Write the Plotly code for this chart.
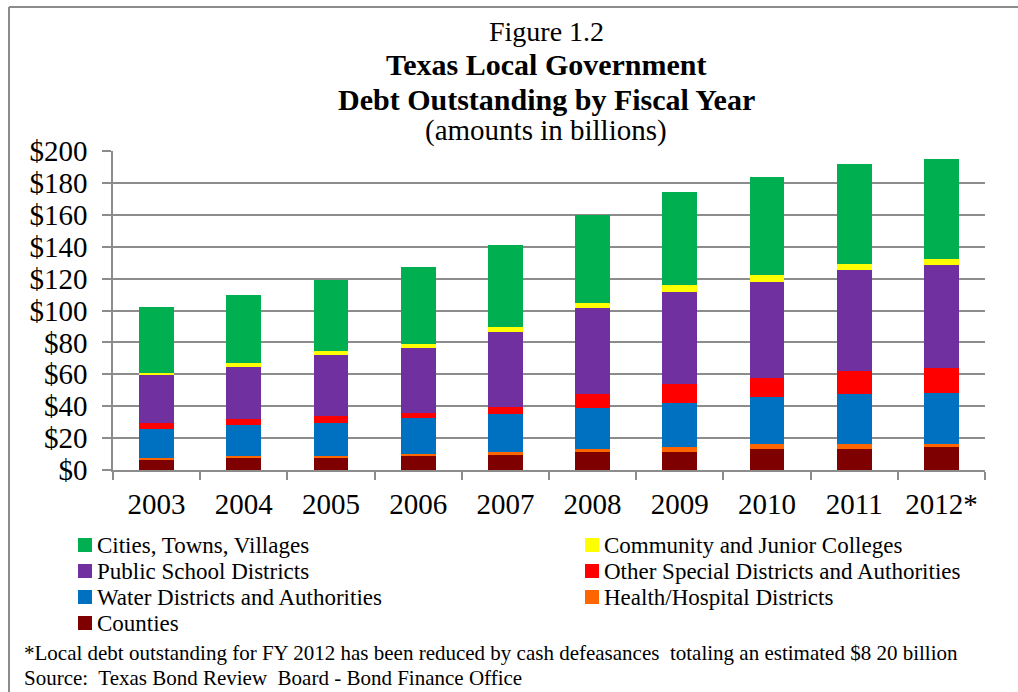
import plotly.graph_objects as go

# Fiscal years and outstanding debt by issuer type ($ billions)
years = ["2003", "2004", "2005", "2006", "2007", "2008", "2009", "2010", "2011", "2012*"]
counties = [6.7, 7.7, 7.7, 8.8, 10.0, 11.1, 11.5, 12.9, 12.9, 14.2]
health = [1.0, 1.3, 1.3, 1.2, 1.1, 2.1, 2.7, 3.2, 3.2, 2.1]
water = [18.2, 19.2, 20.6, 22.4, 23.8, 25.8, 27.6, 29.4, 31.3, 32.1]
other_special = [3.7, 3.5, 4.0, 3.5, 4.3, 8.4, 11.9, 12.3, 14.6, 15.7]
schools = [30.3, 33.0, 38.4, 40.3, 47.4, 53.9, 58.0, 60.2, 63.3, 64.3]
colleges = [0.9, 2.5, 2.3, 2.5, 3.2, 3.1, 4.2, 4.1, 4.1, 4.2]
cities = [41.5, 42.4, 44.7, 48.6, 51.1, 55.3, 58.4, 61.6, 62.7, 62.6]

# (name, values, colour, legend column, legend row), stacked bottom to top
series = [
    ("Counties", counties, "#7F0000", 0, 3),
    ("Health/Hospital Districts", health, "#FF6600", 1, 2),
    ("Water Districts and Authorities", water, "#0070C0", 0, 2),
    ("Other Special Districts and Authorities", other_special, "#FF0000", 1, 1),
    ("Public School Districts", schools, "#7030A0", 0, 1),
    ("Community and Junior Colleges", colleges, "#FFFF00", 1, 0),
    ("Cities, Towns, Villages", cities, "#00B050", 0, 0),
]

W, H = 1018, 692
L, R, T, B = 113, 33, 151, 222
PW, PH = W - L - R, H - T - B
SERIF = "Liberation Serif"
GRID = "#8C8C8C"


def px_x(x):
    return (x - L) / PW


def px_y(y):
    return (H - B - y) / PH


fig = go.Figure()
for name, vals, color, _, _ in series:
    fig.add_trace(go.Bar(
        x=years, y=vals, name=name,
        marker=dict(color=color, line=dict(width=0)),
        width=0.4,
    ))

fig.update_layout(
    width=W, height=H,
    margin=dict(l=L, r=R, t=T, b=B, autoexpand=False),
    barmode="stack",
    paper_bgcolor="white", plot_bgcolor="white",
    font=dict(family=SERIF, color="black"),
    showlegend=False,
    xaxis=dict(
        type="category", tickson="boundaries",
        ticks="outside", ticklen=8, tickcolor=GRID, tickwidth=1.5,
        showline=True, linecolor=GRID, linewidth=1.5,
        showgrid=False,
        tickfont=dict(family=SERIF, size=29, color="black"),
        ticklabelstandoff=7,
    ),
    yaxis=dict(
        range=[0, 200], dtick=20, tickprefix="$",
        ticks="outside", ticklen=9, tickcolor=GRID, tickwidth=1.5,
        showline=True, linecolor=GRID, linewidth=1.5,
        showgrid=True, gridcolor=GRID, gridwidth=1.5,
        zeroline=False,
        tickfont=dict(family=SERIF, size=29, color="black"),
        ticklabelstandoff=9,
    ),
)

# Title block
title_lines = [
    ("Figure 1.2", 28, 32),
    ("<b>Texas Local Government</b>", 30, 65),
    ("<b>Debt Outstanding by Fiscal Year</b>", 30, 99),
    ("(amounts in billions)", 29, 131),
]
for text, size, yc in title_lines:
    fig.add_annotation(
        text=text, xref="paper", yref="paper",
        x=px_x(546), y=px_y(yc), xanchor="center", yanchor="middle",
        showarrow=False, font=dict(family=SERIF, size=size, color="black"),
    )

# Legend: two columns of colour swatches with labels
col_x = [78, 585]
row_y = [545, 571, 597, 623]
for name, _, color, col, row in series:
    x0, yc = col_x[col], row_y[row]
    fig.add_shape(type="rect", xref="paper", yref="paper",
                  x0=px_x(x0), x1=px_x(x0 + 14),
                  y0=px_y(yc + 7), y1=px_y(yc - 7),
                  fillcolor=color, line=dict(width=0))
    fig.add_annotation(
        text=name, xref="paper", yref="paper",
        x=px_x(x0 + 17), y=px_y(yc), xanchor="left", yanchor="middle",
        showarrow=False, font=dict(family=SERIF, size=23, color="black"),
    )

# Footnotes
notes = [
    ("*Local debt outstanding for FY 2012 has been reduced by cash defeasances&nbsp; totaling an estimated $8 20 billion", 653),
    ("Source:&nbsp; Texas Bond Review&nbsp; Board - Bond Finance Office", 678),
]
for text, yc in notes:
    fig.add_annotation(
        text=text, xref="paper", yref="paper",
        x=px_x(22), y=px_y(yc), xanchor="left", yanchor="middle",
        showarrow=False, font=dict(family=SERIF, size=21, color="black"),
    )

# Chart frame (left and top edges)
fig.add_shape(type="line", xref="paper", yref="paper",
              x0=px_x(9), x1=px_x(9), y0=px_y(7), y1=px_y(H + 5),
              line=dict(color=GRID, width=2))
fig.add_shape(type="line", xref="paper", yref="paper",
              x0=px_x(9), x1=px_x(W + 5), y0=px_y(7), y1=px_y(7),
              line=dict(color=GRID, width=2))

fig.write_html("out.html")
